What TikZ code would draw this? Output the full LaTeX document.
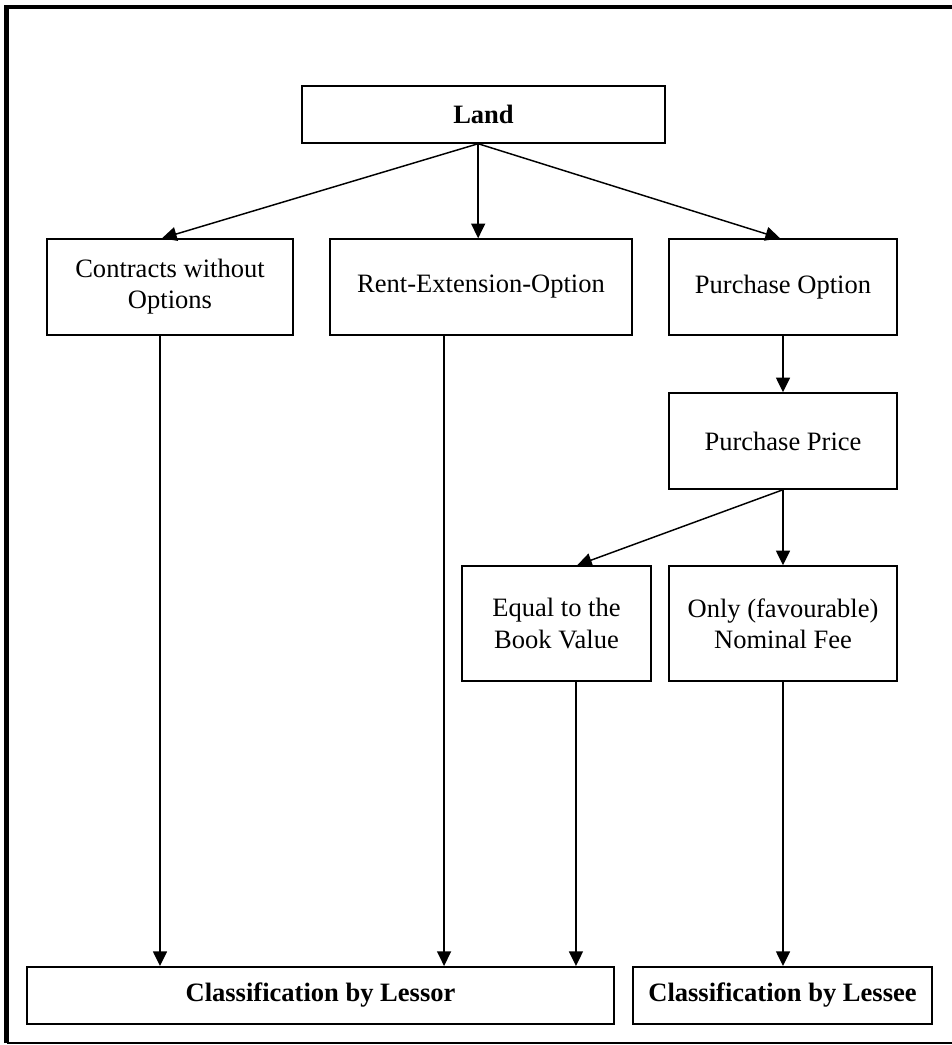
\documentclass[tikz,border=0pt]{standalone}
\usepackage{fontspec}
\setmainfont{Liberation Serif}
\usetikzlibrary{arrows.meta}

\tikzset{
  % box given by its left, top, right and bottom edges (picture units)
  boxat/.style n args={4}{
    at={({(#1+#3)/2},{(#2+#4)/2})},
    minimum width={(#3-#1)*0.75pt},
    minimum height={(#4-#2)*0.75pt}},
  stepbox/.style={draw, line width=1.1pt, inner sep=0pt, align=center,
    font=\fontsize{19.9pt}{23.3pt}\selectfont},
  resultbox/.style={stepbox, line width=1.5pt, font=\fontsize{19.9pt}{23.3pt}\selectfont\bfseries},
  link/.style={line width=1.1pt, -{Triangle[length=11pt,width=10.5pt]}}
}

\begin{document}
\begin{tikzpicture}[x=0.75pt, y=-0.75pt]
  \useasboundingbox (0,0) rectangle (951,1045);

  % outer frame
  \draw[line width=3.4pt] (6.5,1043) -- (6.5,7) -- (960,7);
  \draw[line width=1.3pt] (6.5,1043) -- (960,1043);

  % boxes
  \node[stepbox, boxat={302}{86}{665}{143}] (land) {\textbf{Land}};
  \node[stepbox, boxat={47}{239}{293}{335}] (cwo) {Contracts without\\Options};
  \node[stepbox, boxat={330}{239}{632}{335}] (reo) {Rent-Extension-Option};
  \node[stepbox, boxat={669}{239}{897}{335}] (po) {Purchase Option};
  \node[stepbox, boxat={669}{393}{897}{489}] (pp) {Purchase Price};
  \node[stepbox, boxat={462}{566}{651}{681}] (equal) {Equal to the\\Book Value};
  \node[stepbox, boxat={669}{566}{897}{681}] (only) {Only (favourable)\\Nominal Fee};
  \node[resultbox, boxat={27}{967}{614}{1024}] (lessor) {Classification by Lessor};
  \node[resultbox, boxat={633}{967}{932}{1024}] (lessee) {Classification by Lessee};

  % connectors
  \coordinate (landfoot) at ([xshift=-4pt]land.south);
  \draw[link] (landfoot) -- ([xshift=-6pt]cwo.north);
  \draw[link] (landfoot) -- (landfoot |- reo.north);
  \draw[link] (landfoot) -- ([xshift=-2.2pt]po.north);

  \draw[link] ([xshift=-7.5pt]cwo.south) -- ([xshift=-7.5pt]cwo.south |- lessor.north);
  \draw[link] ([xshift=-27.7pt]reo.south) -- ([xshift=-27.7pt]reo.south |- lessor.north);
  \draw[link] ([xshift=14.6pt]equal.south) -- ([xshift=14.6pt]equal.south |- lessor.north);

  \draw[link] (po.south) -- (pp.north);
  \draw[link] (pp.south) -- ([xshift=15.5pt]equal.north);
  \draw[link] (pp.south) -- (only.north);
  \draw[link] (only.south) -- (only.south |- lessee.north);
\end{tikzpicture}
\end{document}
